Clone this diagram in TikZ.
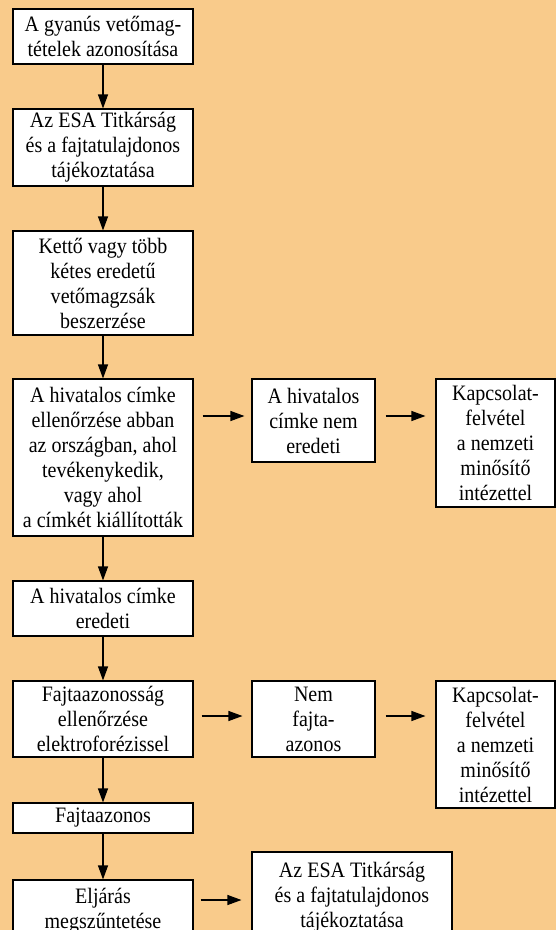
\documentclass[tikz,border=0pt]{standalone}
\usepackage{fontspec}
\setmainfont{Liberation Serif}[FakeStretch=0.91]
\usetikzlibrary{arrows.meta}
\definecolor{bgc}{RGB}{249,203,139}
\tikzset{
  box/.style={draw=black, line width=1.1pt, fill=white, align=center, inner sep=2pt,
    font=\fontsize{22}{25}\selectfont},
  arr/.style={line width=1.1pt, -{Triangle[length=14pt,width=10pt]}}
}
\begin{document}
\begin{tikzpicture}[x=1pt,y=-1pt]
\useasboundingbox (0,0) rectangle (556,930);
\clip (0,0) rectangle (556,930);
\fill[bgc] (0,0) rectangle (556,930);

\node[box, minimum width=180pt, minimum height=55pt] (B1) at (103,36.5) {A gyanús vetőmag-\\tételek azonosítása};
\node[box, minimum width=180pt, minimum height=77pt] (B2) at (103,147.5) {Az ESA Titkárság\\és a fajtatulajdonos\\tájékoztatása};
\node[box, minimum width=180pt, minimum height=104pt] (B3) at (103,283) {Kettő vagy több\\kétes eredetű\\vetőmagzsák\\beszerzése};
\node[box, minimum width=180pt, minimum height=157pt] (B4) at (103,457.5) {A hivatalos címke\\ellenőrzése abban\\az országban, ahol\\tevékenykedik,\\vagy ahol\\a címkét kiállították};
\node[box, minimum width=123pt, minimum height=83pt] (B5) at (313.5,420.5) {A hivatalos\\címke nem\\eredeti};
\node[box, minimum width=119pt, minimum height=128pt] (B6) at (495.5,443) {Kapcsolat-\\felvétel\\a nemzeti\\minősítő\\intézettel};
\node[box, minimum width=180pt, minimum height=55pt] (B7) at (103,608.5) {A hivatalos címke\\eredeti};
\node[box, minimum width=180pt, minimum height=76pt] (B8) at (103,719) {Fajtaazonosság\\ellenőrzése\\elektroforézissel};
\node[box, minimum width=123pt, minimum height=76pt] (B9) at (313.5,719) {Nem\\fajta-\\azonos};
\node[box, minimum width=119pt, minimum height=127pt] (B10) at (495.5,744.5) {Kapcsolat-\\felvétel\\a nemzeti\\minősítő\\intézettel};
\node[box, minimum width=180pt, minimum height=30pt] (B11) at (103,818) {Fajtaazonos};
\node[box, minimum width=180pt, minimum height=61pt] (B12) at (103,910.5) {Eljárás\\megszűntetése};
\node[box, minimum width=200pt, minimum height=90pt] (B13) at (352,897) {Az ESA Titkárság\\és a fajtatulajdonos\\tájékoztatása};

% vertical chain
\draw[arr] (B1.south) -- (B2.north);
\draw[arr] (B2.south) -- (B3.north);
\draw[arr] (B3.south) -- (B4.north);
\draw[arr] (B4.south) -- (B7.north);
\draw[arr] (B7.south) -- (B8.north);
\draw[arr] (B8.south) -- (B11.north);
\draw[arr] (B11.south) -- (B12.north);

% horizontal arrows
\coordinate (h1) at ([yshift=4.5pt]B5.west);
\coordinate (h2) at ([yshift=3pt]B9.west);
\coordinate (h3) at ([yshift=-3pt]B13.west);
\draw[arr, shorten <=9pt, shorten >=7pt] (B4.east |- h1) -- (h1);
\draw[arr, shorten <=10pt, shorten >=10pt] (B5.east |- h1) -- (B6.west |- h1);
\draw[arr, shorten <=8pt, shorten >=9pt] (B8.east |- h2) -- (h2);
\draw[arr, shorten <=10pt, shorten >=10pt] (B9.east |- h2) -- (B10.west |- h2);
\draw[arr, shorten <=7pt, shorten >=10pt] (B12.east |- h3) -- (h3);
\end{tikzpicture}
\end{document}
